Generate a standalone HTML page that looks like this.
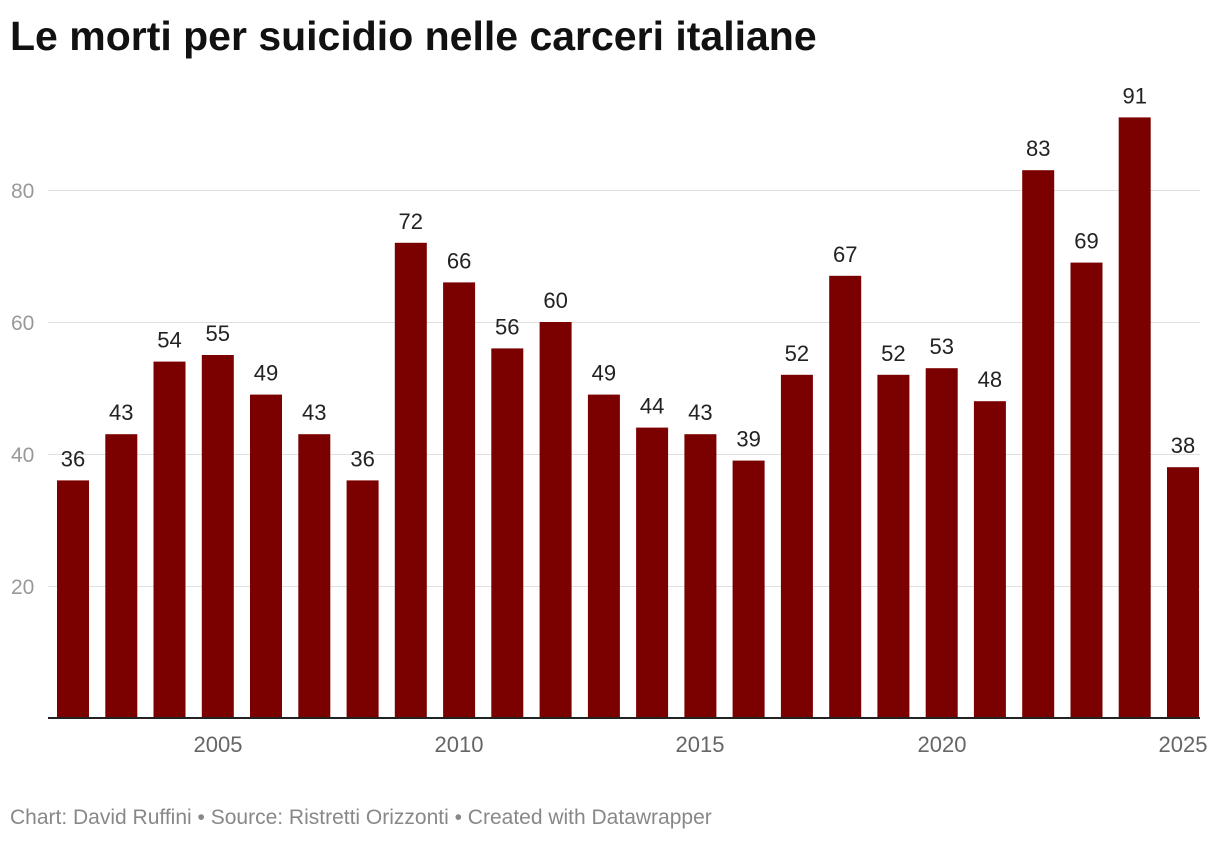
<!DOCTYPE html>
<html><head><meta charset="utf-8"><style>
body{margin:0;background:#fff;width:1220px;height:840px;overflow:hidden;font-family:"Liberation Sans",sans-serif}
</style></head><body>
<svg width="1220" height="840" xmlns="http://www.w3.org/2000/svg" font-family="Liberation Sans, sans-serif">
<text x="10" y="50" font-size="41" font-weight="bold" fill="#111">Le morti per suicidio nelle carceri italiane</text>
<g stroke="#e0e0e0" stroke-width="1">
<line x1="48" x2="1200" y1="190.5" y2="190.5"/>
<line x1="48" x2="1200" y1="322.5" y2="322.5"/>
<line x1="48" x2="1200" y1="454.5" y2="454.5"/>
<line x1="48" x2="1200" y1="586.5" y2="586.5"/>
</g>
<g font-size="21" fill="#999">
<text x="11" y="198">80</text><text x="11" y="330">60</text><text x="11" y="462">40</text><text x="11" y="594">20</text>
</g>
<g fill="#7b0000">
<rect x="57.0" y="480.4" width="32" height="237.6"/>
<rect x="105.3" y="434.2" width="32" height="283.8"/>
<rect x="153.5" y="361.6" width="32" height="356.4"/>
<rect x="201.8" y="355" width="32" height="363"/>
<rect x="250.0" y="394.6" width="32" height="323.4"/>
<rect x="298.3" y="434.2" width="32" height="283.8"/>
<rect x="346.6" y="480.4" width="32" height="237.6"/>
<rect x="394.8" y="242.8" width="32" height="475.2"/>
<rect x="443.1" y="282.4" width="32" height="435.6"/>
<rect x="491.3" y="348.4" width="32" height="369.6"/>
<rect x="539.6" y="322" width="32" height="396"/>
<rect x="587.9" y="394.6" width="32" height="323.4"/>
<rect x="636.1" y="427.6" width="32" height="290.4"/>
<rect x="684.4" y="434.2" width="32" height="283.8"/>
<rect x="732.6" y="460.6" width="32" height="257.4"/>
<rect x="780.9" y="374.8" width="32" height="343.2"/>
<rect x="829.2" y="275.8" width="32" height="442.2"/>
<rect x="877.4" y="374.8" width="32" height="343.2"/>
<rect x="925.7" y="368.2" width="32" height="349.8"/>
<rect x="973.9" y="401.2" width="32" height="316.8"/>
<rect x="1022.2" y="170.2" width="32" height="547.8"/>
<rect x="1070.5" y="262.6" width="32" height="455.4"/>
<rect x="1118.7" y="117.4" width="32" height="600.6"/>
<rect x="1167.0" y="467.2" width="32" height="250.8"/>
</g>
<g font-size="22" fill="#222" text-anchor="middle">
<text x="73.0" y="466.4">36</text>
<text x="121.3" y="420.2">43</text>
<text x="169.5" y="347.6">54</text>
<text x="217.8" y="341">55</text>
<text x="266.0" y="380.6">49</text>
<text x="314.3" y="420.2">43</text>
<text x="362.6" y="466.4">36</text>
<text x="410.8" y="228.8">72</text>
<text x="459.1" y="268.4">66</text>
<text x="507.3" y="334.4">56</text>
<text x="555.6" y="308">60</text>
<text x="603.9" y="380.6">49</text>
<text x="652.1" y="413.6">44</text>
<text x="700.4" y="420.2">43</text>
<text x="748.6" y="446.6">39</text>
<text x="796.9" y="360.8">52</text>
<text x="845.2" y="261.8">67</text>
<text x="893.4" y="360.8">52</text>
<text x="941.7" y="354.2">53</text>
<text x="989.9" y="387.2">48</text>
<text x="1038.2" y="156.2">83</text>
<text x="1086.5" y="248.6">69</text>
<text x="1134.7" y="103.4">91</text>
<text x="1183.0" y="453.2">38</text>
</g>
<line x1="48" x2="1200" y1="718" y2="718" stroke="#222" stroke-width="2"/>
<g font-size="22" fill="#666" text-anchor="middle">
<text x="218" y="752">2005</text><text x="459" y="752">2010</text><text x="700" y="752">2015</text><text x="942" y="752">2020</text><text x="1183" y="752">2025</text>
</g>
<text x="10" y="824" font-size="21" fill="#888">Chart: David Ruffini • Source: Ristretti Orizzonti • Created with Datawrapper</text>
</svg>
</body></html>
